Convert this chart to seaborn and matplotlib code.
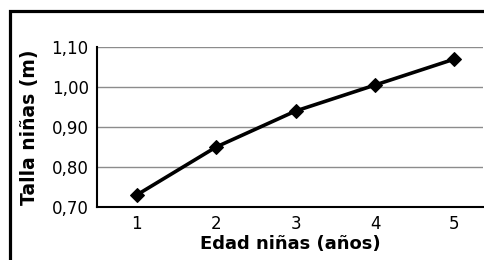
import matplotlib
matplotlib.use("Agg")
import matplotlib.pyplot as plt
import seaborn as sns
import pandas as pd
from matplotlib.patches import Rectangle

# datos
edad = [1, 2, 3, 4, 5]
talla = [0.73, 0.85, 0.94, 1.005, 1.07]
y_ticks = [0.70, 0.80, 0.90, 1.00, 1.10]
y_labels = ["0,70", "0,80", "0,90", "1,00", "1,10"]

df = pd.DataFrame({"edad": edad, "talla": talla})

sns.set_style("white")
plt.rcParams["font.family"] = ["DejaVu Sans"]
plt.rcParams["text.color"] = "black"
plt.rcParams["axes.labelcolor"] = "black"
plt.rcParams["xtick.color"] = "black"
plt.rcParams["ytick.color"] = "black"

fig = plt.figure(figsize=(4.85, 2.6), dpi=100)
ax = fig.add_axes([0.200, 0.204, 0.796, 0.615])

ax.yaxis.grid(True, color="#8c8c8c", linewidth=1.0)
ax.set_axisbelow(True)

sns.lineplot(data=df, x="edad", y="talla", ax=ax, color="black",
             linewidth=2.6, marker="D", markersize=7,
             markeredgecolor="black", markerfacecolor="black")

ax.set_xlim(0.5, 5.36)
ax.set_ylim(0.70, 1.10)
ax.set_xticks(edad)
ax.set_xticklabels([str(e) for e in edad])
ax.set_yticks(y_ticks)
ax.set_yticklabels(y_labels)

ax.tick_params(axis="both", labelsize=12, length=4, width=1.5, color="black",
               labelcolor="black", direction="out", pad=2)
ax.tick_params(axis="x", pad=2)

for side in ["top", "right"]:
    ax.spines[side].set_visible(False)
for side in ["left", "bottom"]:
    ax.spines[side].set_color("black")
    ax.spines[side].set_linewidth(1.5)

ax.set_xlabel("Edad niñas (años)", fontsize=13, fontweight="bold",
              color="black", labelpad=1)
ax.set_ylabel("Talla niñas (m)", fontsize=13.5, fontweight="bold",
              color="black", labelpad=9)

# marco exterior (recortado a la derecha y abajo)
fig.patches.append(Rectangle((0.021, -0.1), 1.2, 1.058, transform=fig.transFigure,
                             fill=False, edgecolor="black", linewidth=2.3,
                             zorder=10))

fig.savefig("out.png", dpi=100)
